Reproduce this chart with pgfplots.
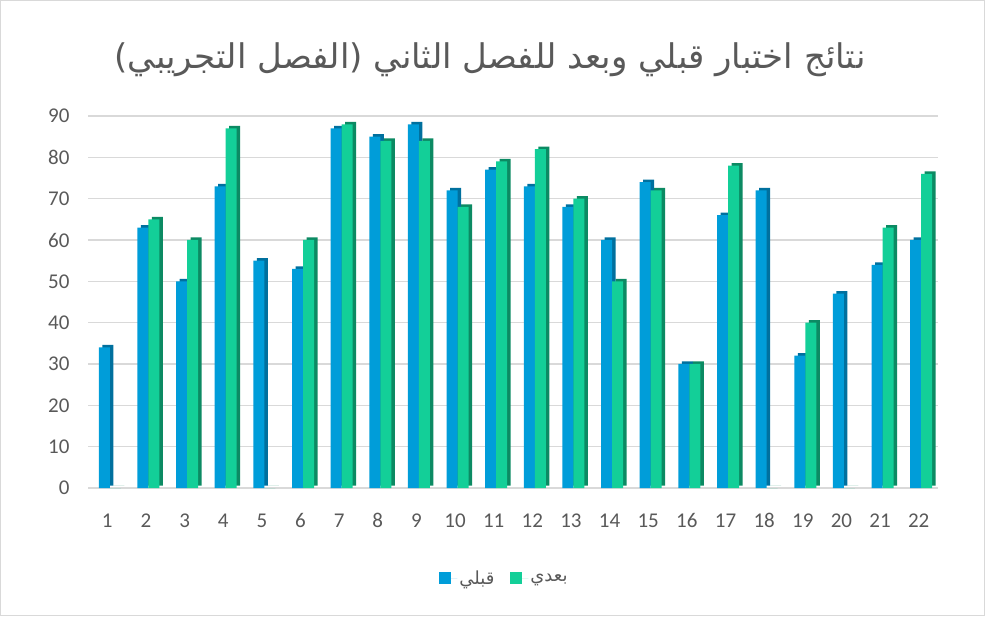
\documentclass[border=0pt]{standalone}
\usepackage{fontspec}
\setmainfont{Carlito}
\newfontfamily\arabicfont[Script=Arabic]{DejaVu Sans}
\TeXXeTstate=1
\usepackage{pgfplots}
\pgfplotsset{compat=1.18}
\definecolor{txt}{HTML}{595959}
\definecolor{bfront}{HTML}{009DD9}
\definecolor{bside}{HTML}{00709E}
\definecolor{gfront}{HTML}{13CF98}
\definecolor{gside}{HTML}{0C8A63}
\definecolor{gridc}{HTML}{D9D9D9}
\begin{document}
\begin{tikzpicture}
\draw[gridc, line width=1pt] (0.5pt,0.5pt) rectangle (984.5pt,615.5pt);
\node[text=txt, font=\arabicfont\fontsize{34}{40}\selectfont] at (490pt,556pt) {\beginR نتائج  اختبار قبلي وبعد للفصل الثاني (الفصل التجريبي)\endR};
\begin{axis}[
  at={(88pt,128pt)}, anchor=south west,
  scale only axis, width=850pt, height=372pt,
  xmin=0.5, xmax=22.5, ymin=0, ymax=90,
  xtick={1,...,22}, ytick={0,10,...,90},
  axis line style={draw=none},
  major tick length=0pt,
  ymajorgrids, grid style={gridc, line width=1.3pt},
  tick label style={text=txt, font=\fontsize{21}{24}\selectfont},
  /pgf/number format/assume math mode=true,
  yticklabel style={xshift=-15pt},
  xticklabel style={yshift=-22pt},
  ybar, bar width=11pt,
  legend style={at={(0.49,-0.242)}, anchor=center, draw=none, legend columns=2,
    font=\arabicfont\fontsize{18}{21}\selectfont, text=txt,
    /tikz/every even column/.append style={column sep=14pt}},
  legend image code/.code={\fill[#1] (0pt,-6pt) rectangle (12pt,6pt); \path (0pt,0pt) -- (18pt,0pt);},
]
\addplot[fill=bside, draw=none, bar shift=-3pt, xshift=3.5pt, yshift=2.5pt, forget plot] coordinates {
(1,34)(2,63)(3,50)(4,73)(5,55)(6,53)(7,87)(8,85)(9,88)(10,72)(11,77)(12,73)(13,68)(14,60)(15,74)(16,30)(17,66)(18,72)(19,32)(20,47)(21,54)(22,60)};
\addplot[fill=bfront, draw=none, bar shift=-3pt] coordinates {
(1,34)(2,63)(3,50)(4,73)(5,55)(6,53)(7,87)(8,85)(9,88)(10,72)(11,77)(12,73)(13,68)(14,60)(15,74)(16,30)(17,66)(18,72)(19,32)(20,47)(21,54)(22,60)};
\addlegendentry{\beginR قبلي\endR}
\addplot[fill=gside, draw=none, bar shift=8pt, xshift=3.5pt, yshift=2.5pt, forget plot] coordinates {
(1,0)(2,65)(3,60)(4,87)(5,0)(6,60)(7,88)(8,84)(9,84)(10,68)(11,79)(12,82)(13,70)(14,50)(15,72)(16,30)(17,78)(18,0)(19,40)(20,0)(21,63)(22,76)};
\addplot[fill=gfront, draw=none, bar shift=8pt] coordinates {
(1,0)(2,65)(3,60)(4,87)(5,0)(6,60)(7,88)(8,84)(9,84)(10,68)(11,79)(12,82)(13,70)(14,50)(15,72)(16,30)(17,78)(18,0)(19,40)(20,0)(21,63)(22,76)};
\addlegendentry{\beginR بعدي\endR}
\end{axis}
\end{tikzpicture}
\end{document}
